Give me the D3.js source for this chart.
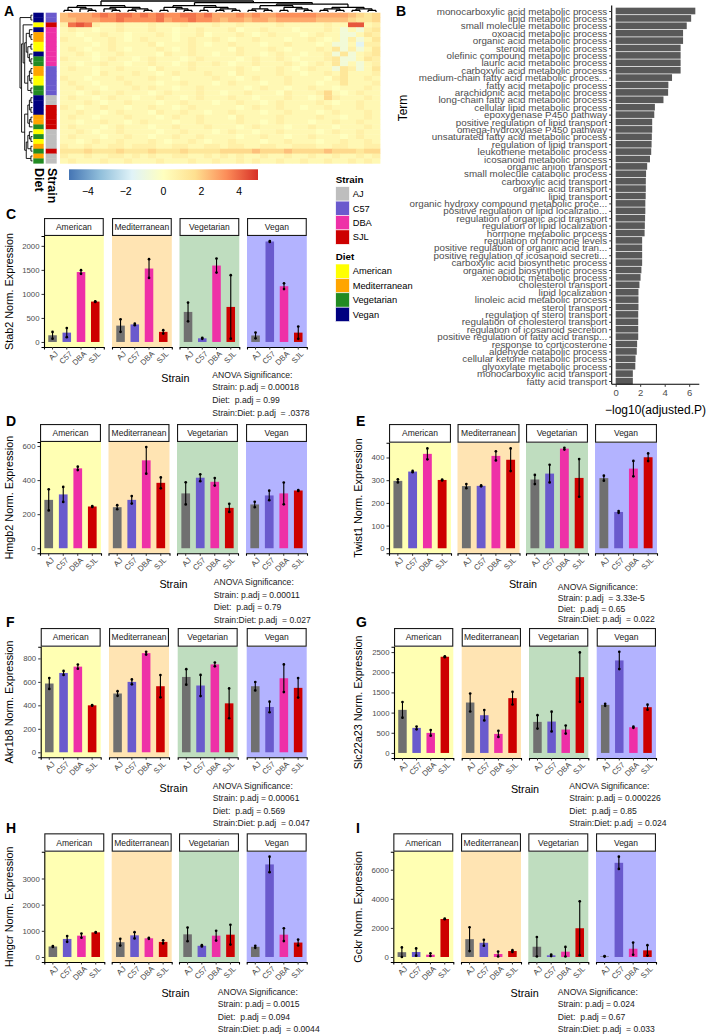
<!DOCTYPE html>
<html>
<head>
<meta charset="utf-8">
<script src="https://cdn.jsdelivr.net/npm/d3@7/dist/d3.min.js"></script>
<style>
  body { margin:0; background:#fff; }
  svg { display:block; }
  text { font-family: "Liberation Sans", Arial, Helvetica, sans-serif; }
</style>
</head>
<body>
<svg id="fig" width="711" height="1036"></svg>
<script>
// ======================= DATA =======================
const strains = ["AJ", "C57", "DBA", "SJL"];
const diets = ["American", "Mediterranean", "Vegetarian", "Vegan"];

// ---- Panel A: heatmap samples (top to bottom) ----
const heatRowDiet = ["Vegan","Vegan","American","Vegan","Mediterranean","Mediterranean","American","American",
  "Vegan","Vegetarian","Vegetarian","Mediterranean","Mediterranean","American","American","Vegetarian",
  "Vegetarian","Vegan","Vegan","Vegan","Vegan","Mediterranean","Mediterranean","Vegetarian","American",
  "Vegetarian","American","Mediterranean","Vegetarian","Mediterranean","Vegetarian"];
const heatRowStrain = ["C57","C57","SJL","DBA","DBA","DBA","DBA","DBA","DBA","DBA","DBA","C57","C57","C57","C57",
  "C57","C57","AJ","AJ","SJL","SJL","SJL","SJL","SJL","AJ","AJ","AJ","AJ","SJL","AJ","AJ"];
// z-score levels per column block, coded (see heatLevelCodes)
const heatRows = [
  "5666787887 8787788786 6676766777 7766665434",
  "5566677877 7786778776 5665665666 6655554334",
  "2898211211 1211121112 1121111211 1112119912",
  "1211011211 1211011211 1201121110 11121a1a23",
  "1101121101 1121011201 1121012111 01211aa132",
  "2110112101 2111012112 1011211101 12101a2a13",
  "1111012111 1201112101 1211101121 1101aa1b22",
  "1210112101 1121012111 1021112101 11213a2a13",
  "1121011211 1102112110 1121101211 0112a3a123",
  "2111012110 1211101211 1101211210 11123aa132",
  "1101121101 1211012112 1011211121 01213a1a12",
  "1211011211 1021112111 1121011210 1211a32a13",
  "1111021112 1101211121 1021111211 0112131112",
  "2110111211 1211011112 1101211121 1110231121",
  "1211011121 1101121110 1211101121 1101131112",
  "1121101112 1211011211 1110121101 1211011121",
  "1101211211 1012111211 0112111021 1124101211",
  "1211012110 1121101211 1211011121 1014211121",
  "1112101121 1101121110 1121101211 1121011211",
  "2101121101 1211012111 1101211211 0112111211",
  "1121101211 1021121101 1211101121 1101211121",
  "1211011121 1101211211 1021111211 1121101121",
  "1101121101 2111011211 1121101211 1011211211",
  "1211101211 1011211121 1101211101 1211011121",
  "1121011211 1101121110 1211011211 1101211211",
  "1211101121 1011211211 1101121101 1211101211",
  "1101211211 1210112101 1211101121 1101121121",
  "2112112212 2211221122 1221122112 2211221122",
  "3334333433 3433343333 4444544454 4445444344",
  "2112112212 1211221121 2121121121 1211211212",
  "1211121121 1121112112 1121211211 2112112121"
];
const heatLevelCodes = { b: -1.5, a: -0.7, 0: 0, 1: 0.4, 2: 0.8, 3: 1.3, 4: 1.8, 5: 2.3, 6: 2.8, 7: 3.3, 8: 3.8, 9: 4.3 };
const heatLegendTicks = [-4, -2, 0, 2, 4];
const heatLimit = 5;
const leftTree = [[0,1],[[2,[[[3,[4,5]],[[6,7],[8,[9,10]]]],[[[11,12],[13,14]],[15,16]]]],[[[[17,18],[19,20]],[[21,22],23]],[[[24,[25,26]],[27,28]],[29,30]]]]];
const topTree = [[[[0,1],[2,[3,4]]],[[5,[6,7]],[[8,9],[10,11]]]],[[[[12,13],[14,[15,16]]],[[17,18],[[19,20],[21,22]]]],[[[[23,24],[25,26]],[[27,28],[29,[30,31]]]],[[[32,33],[34,35]],[[36,37],[38,39]]]]]];

// ---- Panel B: GO enrichment ----
const goTerms = [
  "monocarboxylic acid metabolic process","lipid metabolic process","small molecule metabolic process",
  "oxoacid metabolic process","organic acid metabolic process","steroid metabolic process",
  "olefinic compound metabolic process","lauric acid metabolic process","carboxylic acid metabolic process",
  "medium-chain fatty acid metabolic proces...","fatty acid metabolic process","arachidonic acid metabolic process",
  "long-chain fatty acid metabolic process","cellular lipid metabolic process","epoxygenase P450 pathway",
  "positive regulation of lipid transport","omega-hydroxylase P450 pathway","unsaturated fatty acid metabolic process",
  "regulation of lipid transport","leukotriene metabolic process","icosanoid metabolic process",
  "organic anion transport","small molecule catabolic process","carboxylic acid transport",
  "organic acid transport","lipid transport","organic hydroxy compound metabolic proce...",
  "positive regulation of lipid localizatio...","regulation of organic acid transport","regulation of lipid localization",
  "hormone metabolic process","regulation of hormone levels","positive regulation of organic acid tran...",
  "positive regulation of icosanoid secreti...","carboxylic acid biosynthetic process","organic acid biosynthetic process",
  "xenobiotic metabolic process","cholesterol transport","lipid localization",
  "linoleic acid metabolic process","sterol transport","regulation of sterol transport",
  "regulation of cholesterol transport","regulation of icosanoid secretion","positive regulation of fatty acid transp...",
  "response to corticosterone","aldehyde catabolic process","cellular ketone metabolic process",
  "glyoxylate metabolic process","monocarboxylic acid transport","fatty acid transport"
];
const goValues = [6.5,6.16,5.8,5.5,5.5,5.3,5.3,5.3,5.3,4.6,4.3,4.28,3.9,3.2,3.15,2.98,2.98,2.95,2.93,2.9,2.8,
  2.57,2.48,2.46,2.46,2.45,2.42,2.42,2.4,2.38,2.36,2.16,2.16,2.16,2.16,2.1,2.03,1.94,1.86,1.86,1.86,
  1.84,1.84,1.84,1.84,1.75,1.72,1.62,1.6,1.4,1.4];
const goTicks = [0, 2, 4, 6];

// ---- Panels C–I: mean and SE per diet x strain (order: diet-major, strain-minor) ----
const stab2Mean = [139,194,1455,840, 340,365,1528,210, 625,76,1590,729, 135,2090,1160,194];
const stab2Se   = [70,94,38,6, 130,15,195,35, 195,10,146,660, 60,10,60,128];
const stab2Ticks = [0,500,1000,1500,2000];
const stab2Anova = ["ANOVA Significance:","Strain: p.adj = 0.00018","Diet:  p.adj = 0.99","Strain:Diet: p.adj  = .0378"];

const hmgb2Mean = [284,316,469,245, 241,284,516,384, 322,414,390,237, 257,310,322,339];
const hmgb2Se   = [62,44,10,3, 12,22,78,32, 65,20,22,24, 16,28,64,3];
const hmgb2Ticks = [0,200,400,600];
const hmgb2Anova = ["ANOVA Significance:","Strain: p.adj = 0.00011","Diet:  p.adj = 0.79","Strain:Diet: p.adj  = 0.027"];

const twist1Mean = [297,338,416,301, 274,275,407,390, 303,329,439,310, 309,160,351,401];
const twist1Se   = [7,3,24,2, 9,2,20,50, 20,39,4,83, 11,4,34,17];
const twist1Ticks = [0,100,200,300,400];
const twist1Anova = ["ANOVA Significance:","Strain: p.adj  = 3.33e-5","Diet:  p.adj = 0.65","Strain:Diet: p.adj  = 0.022"];

const akr1b8Mean = [586,676,730,400, 501,600,845,563, 642,569,749,417, 563,386,631,549];
const akr1b8Se   = [46,17,18,3, 20,21,12,95, 66,90,16,127, 36,45,118,83];
const akr1b8Ticks = [0,200,400,600,800];
const akr1b8Anova = ["ANOVA Significance:","Strain: p.adj = 0.00061","Diet:  p.adj = 0.569","Strain:Diet: p.adj  = 0.047"];

const slc22a23Mean = [1068,621,497,2384, 1250,935,472,1358, 770,778,580,1879, 1192,2293,637,1134];
const slc22a23Se   = [195,35,70,10, 223,128,75,157, 165,244,100,612, 25,215,15,62];
const slc22a23Ticks = [0,500,1000,1500,2000,2500];
const slc22a23Anova = ["ANOVA Significance:","Strain: p.adj = 0.000226","Diet:  p.adj = 0.85","Strain:Diet: p.adj  = 0.024"];

const hmgcrMean = [401,690,815,941, 565,828,715,577, 866,427,815,853, 389,3538,853,552];
const hmgcrSe   = [15,110,80,15, 130,120,20,60, 260,25,188,380, 40,295,245,112];
const hmgcrTicks = [0,1000,2000,3000];
const hmgcrAnova = ["ANOVA Significance:","Strain: p.adj = 0.0015","Diet:  p.adj = 0.094","Strain:Diet: p.adj  = 0.0044"];

const gckrMean = [330,341,159,2614, 1227,977,205,409, 705,114,364,1977, 45,6477,568,455];
const gckrSe   = [330,250,90,20, 818,205,170,60, 670,50,330,1850, 20,420,420,360];
const gckrTicks = [0,2000,4000,6000];
const gckrAnova = ["ANOVA Significance:","Strain: p.adj = 0.024","Diet:  p.adj = 0.67","Strain:Diet: p.adj  = 0.033"];

// ======================= STYLE =======================
const strainColor = { AJ: "#BEBEBE", C57: "#6A5ACD", DBA: "#EE30A7", SJL: "#CD0000" };
const barColor = { AJ: "#707070", C57: "#6A5ACD", DBA: "#EE30A7", SJL: "#CD0000" };
const dietColor = { American: "#FFFF00", Mediterranean: "#FFA500", Vegetarian: "#228B22", Vegan: "#000080" };
const panelBg = { American: "#FFFFB3", Mediterranean: "#FFE4B3", Vegetarian: "#BFDDBF", Vegan: "#B3B3FF" };
const heatPalette = ["#4575B4","#91BFDB","#E0F3F8","#FFFFBF","#FEE090","#FC8D59","#D73027"];
const AXIS_GREY = "#4D4D4D";

const svg = d3.select("#fig");

// ======================= PANEL A =======================
(function panelA() {
  const g = svg.append("g");
  const rows = heatRows.map(r => r.replace(/ /g, "").split("").map(ch => heatLevelCodes[ch]));
  const nCol = rows[0].length;
  const x = d3.scaleBand().domain(d3.range(nCol)).range([60, 380]);
  const y = d3.scaleBand().domain(d3.range(rows.length)).range([12.7, 163.3]);
  const color = d3.scaleLinear()
    .domain(heatPalette.map((c, i) => -heatLimit + i * 2 * heatLimit / (heatPalette.length - 1)))
    .range(heatPalette).clamp(true);

  rows.forEach((row, r) => {
    g.selectAll(null).data(row).join("rect")
      .attr("x", (d, c) => x(c)).attr("y", y(r))
      .attr("width", x.bandwidth() + 0.4).attr("height", y.bandwidth() + 0.4)
      .attr("fill", d => color(d));
  });
  // annotations
  g.selectAll(null).data(heatRowDiet).join("rect")
    .attr("x", 33.3).attr("y", (d, i) => y(i)).attr("width", 10.4).attr("height", y.bandwidth() + 0.3)
    .attr("fill", d => dietColor[d]);
  g.selectAll(null).data(heatRowStrain).join("rect")
    .attr("x", 45.7).attr("y", (d, i) => y(i)).attr("width", 11).attr("height", y.bandwidth() + 0.3)
    .attr("fill", d => strainColor[d]);

  // dendrograms
  const toHier = t => d3.hierarchy(t, d => Array.isArray(d) ? d : null);
  function drawDendro(tree, leafPos, rootCoord, leafCoord, horizontal, sw) {
    const root = toHier(tree);
    d3.cluster().separation(() => 1).size([1, 1])(root);
    root.eachAfter(n => {
      if (!n.children) n.p = leafPos(n.data);
      else n.p = (n.children[0].p + n.children[n.children.length - 1].p) / 2;
    });
    const h = d3.scaleLinear().domain([0, 1]).range([rootCoord, leafCoord]);
    const path = d3.path();
    root.each(n => {
      if (!n.children) return;
      const a = h(n.y);
      const p0 = n.children[0].p, p1 = n.children[n.children.length - 1].p;
      if (horizontal) { path.moveTo(a, p0); path.lineTo(a, p1); } else { path.moveTo(p0, a); path.lineTo(p1, a); }
      n.children.forEach(c => {
        const b = h(c.y);
        if (horizontal) { path.moveTo(a, c.p); path.lineTo(b, c.p); } else { path.moveTo(c.p, a); path.lineTo(c.p, b); }
      });
    });
    g.append("path").attr("d", path.toString()).attr("fill", "none").attr("stroke", "#000").attr("stroke-width", sw);
  }
  drawDendro(leftTree, i => y(i) + y.bandwidth() / 2, 20, 32.5, true, 0.9);
  drawDendro(topTree, i => x(i) + x.bandwidth() / 2, 1, 12, false, 1.3);

  // annotation names (read top to bottom)
  g.append("text").attr("transform", "translate(35,168) rotate(90)").attr("text-anchor", "start")
    .attr("font-size", 12.5).attr("font-weight", "bold").text("Diet");
  g.append("text").attr("transform", "translate(47.5,168) rotate(90)").attr("text-anchor", "start")
    .attr("font-size", 12.5).attr("font-weight", "bold").text("Strain");

  // color bar
  const cb = d3.scaleLinear().domain([-heatLimit, heatLimit]).range([69, 258]);
  const grad = svg.append("defs").append("linearGradient").attr("id", "cbgrad");
  heatPalette.forEach((c, i) => grad.append("stop").attr("offset", (i / (heatPalette.length - 1) * 100) + "%").attr("stop-color", c));
  g.append("rect").attr("x", 69).attr("y", 169.3).attr("width", 189).attr("height", 10.7).attr("fill", "url(#cbgrad)");
  g.selectAll(null).data(heatLegendTicks).join("text")
    .attr("x", d => cb(d)).attr("y", 195).attr("text-anchor", "middle").attr("font-size", 10.5)
    .text(d3.format("d"));

  // legends
  const lg = svg.append("g");
  lg.append("text").attr("x", 335.7).attr("y", 182.8).attr("font-size", 9.8).attr("font-weight", "bold").text("Strain");
  strains.forEach((s, i) => {
    lg.append("rect").attr("x", 335.7).attr("y", 186.7 + i * 14.4).attr("width", 13.7).attr("height", 14.4)
      .attr("fill", strainColor[s]).attr("stroke", "#fff").attr("stroke-width", 0.6);
    lg.append("text").attr("x", 352.7).attr("y", 186.7 + i * 14.4 + 10.4).attr("font-size", 9.3).text(s);
  });
  lg.append("text").attr("x", 335.7).attr("y", 260.3).attr("font-size", 9.8).attr("font-weight", "bold").text("Diet");
  diets.forEach((s, i) => {
    lg.append("rect").attr("x", 335.7).attr("y", 264 + i * 14.4).attr("width", 13.7).attr("height", 14.4)
      .attr("fill", dietColor[s]).attr("stroke", "#fff").attr("stroke-width", 0.6);
    lg.append("text").attr("x", 352.7).attr("y", 264 + i * 14.4 + 10.4).attr("font-size", 9.3).text(s);
  });
})();

// ======================= PANEL B =======================
(function panelB() {
  const g = svg.append("g");
  const y = d3.scalePoint().domain(goTerms).range([11, 381]);
  const step = y.step();
  const x = d3.scaleLinear().domain([-0.325, 6.825]).range([611.7, 699.3]);
  g.selectAll(null).data(goTerms).join("rect")
    .attr("x", x(0)).attr("y", d => y(d) - step * 0.45)
    .attr("width", (d, i) => x(goValues[i]) - x(0)).attr("height", step * 0.9)
    .attr("fill", "#595959");
  const ay = g.append("g").attr("transform", "translate(611.7,0)")
    .call(d3.axisLeft(y).tickSize(2.5).tickPadding(2));
  ay.select(".domain").attr("d", "M0,5.5V384.3").attr("stroke", "#000").attr("stroke-width", 1.1);
  ay.selectAll("text").attr("font-size", 9.8).attr("fill", AXIS_GREY).attr("font-family", null);
  ay.selectAll("line").attr("stroke", "#333");
  const ax = g.append("g").attr("transform", "translate(0,384.3)")
    .call(d3.axisBottom(x).tickValues(goTicks).tickSize(2.5).tickPadding(2).tickFormat(d3.format("d")));
  ax.select(".domain").attr("d", "M611.7,0H699.3").attr("stroke", "#000").attr("stroke-width", 1.1);
  ax.selectAll("text").attr("font-size", 9.5).attr("fill", AXIS_GREY).attr("font-family", null);
  ax.selectAll("line").attr("stroke", "#333");
  g.append("text").attr("x", 655.5).attr("y", 414).attr("text-anchor", "middle").attr("font-size", 12).text("−log10(adjusted.P)");
  g.append("text").attr("transform", "translate(406.5,108) rotate(-90)").attr("text-anchor", "middle").attr("font-size", 12).text("Term");
})();

// ======================= PANELS C–I =======================
function genePanel(L, gene) {
  const g = svg.append("g");
  const vals = gene.mean.map((m, i) => ({ diet: diets[Math.floor(i / 4)], strain: strains[i % 4], mean: m, se: gene.se[i] }));
  const lo = Math.min(0, d3.min(vals, d => d.mean - d.se));
  const hi = d3.max(vals, d => d.mean + d.se);
  const pad = (hi - lo) * 0.05;
  const y = d3.scaleLinear().domain([lo - pad, hi + pad]).range([L.plotBottom, L.stripBottom]);

  diets.forEach((diet, k) => {
    const x0 = L.facetX[k];
    const x = d3.scaleBand().domain(strains).range([x0, x0 + L.facetW]).paddingInner(0.4).paddingOuter(0.3);
    const fv = vals.filter(d => d.diet === diet);
    g.append("rect").attr("x", x0).attr("y", L.stripBottom).attr("width", L.facetW)
      .attr("height", L.plotBottom - L.stripBottom).attr("fill", panelBg[diet]);
    g.append("rect").attr("x", x0 + 0.55).attr("y", L.stripTop + 0.55).attr("width", L.facetW - 1.1)
      .attr("height", L.stripBottom - L.stripTop - 1.1).attr("fill", "#fff").attr("stroke", "#1a1a1a").attr("stroke-width", 1.1);
    g.append("text").attr("x", x0 + L.facetW / 2).attr("y", (L.stripTop + L.stripBottom) / 2 + 3)
      .attr("text-anchor", "middle").attr("font-size", 8.5).attr("fill", "#1a1a1a").text(diet);
    g.selectAll(null).data(fv).join("rect")
      .attr("x", d => x(d.strain)).attr("width", x.bandwidth())
      .attr("y", d => y(d.mean)).attr("height", d => y(0) - y(d.mean))
      .attr("fill", d => barColor[d.strain]);
    g.selectAll(null).data(fv).join("line")
      .attr("x1", d => x(d.strain) + x.bandwidth() / 2).attr("x2", d => x(d.strain) + x.bandwidth() / 2)
      .attr("y1", d => y(d.mean - d.se)).attr("y2", d => y(d.mean + d.se))
      .attr("stroke", "#000").attr("stroke-width", 1.1);
    fv.forEach(d => {
      [d.mean - d.se, d.mean + d.se].forEach(v => {
        g.append("circle").attr("cx", x(d.strain) + x.bandwidth() / 2).attr("cy", y(v)).attr("r", 1.35).attr("fill", "#000");
      });
    });
    const ax = g.append("g").attr("transform", `translate(0,${L.plotBottom})`)
      .call(d3.axisBottom(x).tickSizeOuter(0).tickSize(2.5));
    ax.select(".domain").attr("stroke", "#000").attr("stroke-width", 1.1);
    ax.selectAll("line").attr("stroke", "#333");
    ax.selectAll("text").attr("y", 0).attr("dy", "0.71em").attr("x", 0)
      .attr("transform", "translate(2,3.5) rotate(-45)").attr("text-anchor", "end")
      .attr("font-size", 7.8).attr("fill", AXIS_GREY).attr("font-family", null);
  });
  const ay = g.append("g").attr("transform", `translate(${L.facetX[0]},0)`)
    .call(d3.axisLeft(y).tickValues(gene.ticks).tickSizeOuter(0).tickSize(2.5).tickPadding(2).tickFormat(d3.format("d")));
  ay.select(".domain").attr("stroke", "#000").attr("stroke-width", 1.1);
  ay.selectAll("line").attr("stroke", "#333");
  ay.selectAll("text").attr("font-size", 7.8).attr("fill", AXIS_GREY).attr("font-family", null);

  g.append("text").attr("transform", `translate(${L.titleX},${(L.stripBottom + L.plotBottom) / 2}) rotate(-90)`)
    .attr("text-anchor", "middle").attr("font-size", 10.8).text(gene.name + " Norm. Expression");
  const x1 = L.facetX[3] + L.facetW;
  g.append("text").attr("x", (L.facetX[0] + x1) / 2).attr("y", L.plotBottom + 34.5)
    .attr("text-anchor", "middle").attr("font-size", 10.8).text("Strain");
  g.selectAll(null).data(gene.anova).join("text")
    .attr("x", L.anovaX).attr("y", (d, i) => L.anovaY + i * L.anovaDy)
    .attr("font-size", 8.6).attr("fill", "#1a1a1a").attr("xml:space", "preserve").style("white-space", "pre").text(d => d);
  g.append("text").attr("x", L.letterX).attr("y", L.letterY).attr("font-size", 14).attr("font-weight", "bold").text(L.letter);
}

genePanel({ letter: "C", letterX: 6, letterY: 219, facetX: [44, 112, 179.5, 247], facetW: 59.8,
  stripTop: 218, stripBottom: 236, plotBottom: 347, titleX: 12.5, anovaX: 212.3, anovaY: 377.5, anovaDy: 12.8 },
  { name: "Stab2", mean: stab2Mean, se: stab2Se, ticks: stab2Ticks, anova: stab2Anova });
genePanel({ letter: "D", letterX: 6, letterY: 426, facetX: [40, 108.5, 177, 246], facetW: 61,
  stripTop: 424, stripBottom: 442, plotBottom: 553.3, titleX: 12.5, anovaX: 213.7, anovaY: 585, anovaDy: 12.5 },
  { name: "Hmgb2", mean: hmgb2Mean, se: hmgb2Se, ticks: hmgb2Ticks, anova: hmgb2Anova });
genePanel({ letter: "E", letterX: 356, letterY: 426, facetX: [389, 457.5, 526, 595], facetW: 62,
  stripTop: 424, stripBottom: 442.7, plotBottom: 553.3, titleX: 362, anovaX: 557.7, anovaY: 589.7, anovaDy: 10.9 },
  { name: "Twist1", mean: twist1Mean, se: twist1Se, ticks: twist1Ticks, anova: twist1Anova });
genePanel({ letter: "F", letterX: 6, letterY: 627, facetX: [40.7, 109, 177.7, 246.7], facetW: 60,
  stripTop: 628, stripBottom: 646.7, plotBottom: 757.3, titleX: 12.5, anovaX: 212.7, anovaY: 789, anovaDy: 12.4 },
  { name: "Akr1b8", mean: akr1b8Mean, se: akr1b8Se, ticks: akr1b8Ticks, anova: akr1b8Anova });
genePanel({ letter: "G", letterX: 356, letterY: 627, facetX: [394, 461.7, 529, 596.7], facetW: 59.3,
  stripTop: 628, stripBottom: 646.7, plotBottom: 758, titleX: 362, anovaX: 569.3, anovaY: 788.7, anovaDy: 12.5 },
  { name: "Slc22a23", mean: slc22a23Mean, se: slc22a23Se, ticks: slc22a23Ticks, anova: slc22a23Anova });
genePanel({ letter: "H", letterX: 6, letterY: 833, facetX: [44.3, 111.7, 179, 246.7], facetW: 60,
  stripTop: 833.3, stripBottom: 851.7, plotBottom: 962, titleX: 12.5, anovaX: 217.7, anovaY: 994.7, anovaDy: 12.5 },
  { name: "Hmgcr", mean: hmgcrMean, se: hmgcrSe, ticks: hmgcrTicks, anova: hmgcrAnova });
genePanel({ letter: "I", letterX: 356, letterY: 833, facetX: [393.3, 461, 528.3, 596], facetW: 60,
  stripTop: 833.3, stripBottom: 851.7, plotBottom: 962, titleX: 362, anovaX: 557.7, anovaY: 994.7, anovaDy: 12.4 },
  { name: "Gckr", mean: gckrMean, se: gckrSe, ticks: gckrTicks, anova: gckrAnova });

// panel letters A, B
svg.append("text").attr("x", 4).attr("y", 16).attr("font-size", 14).attr("font-weight", "bold").text("A");
svg.append("text").attr("x", 396).attr("y", 15.5).attr("font-size", 14).attr("font-weight", "bold").text("B");
</script>
</body>
</html>
